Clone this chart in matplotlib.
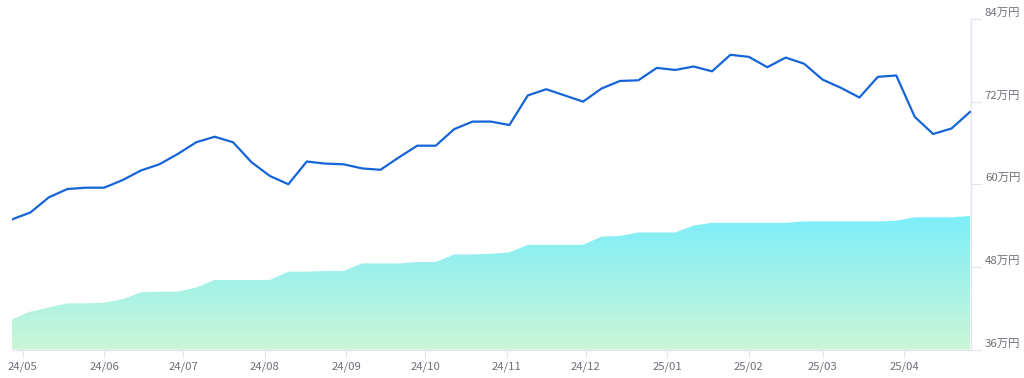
import numpy as np
import pandas as pd
import matplotlib
matplotlib.use("Agg")
import matplotlib.pyplot as plt
import matplotlib.dates as mdates
import matplotlib.transforms as mtransforms
from matplotlib.colors import LinearSegmentedColormap

plt.rcParams['font.family'] = ['Noto Sans CJK JP', 'DejaVu Sans']

# weekly points, 2024-04-27 .. 2025-04-26
start_date = "2024-04-27"
n_weeks = 53

# market value (万円)
market_value = [
    54.9, 55.9, 58.1, 59.3, 59.5, 59.5, 60.6, 62.0, 62.9, 64.4,
    66.1, 66.9, 66.1, 63.2, 61.2, 60.0, 63.3, 63.0, 62.9, 62.3,
    62.1, 63.9, 65.6, 65.6, 68.0, 69.1, 69.1, 68.6, 72.9, 73.8,
    72.9, 72.0, 73.9, 75.0, 75.1, 76.9, 76.6, 77.1, 76.4, 78.8,
    78.5, 77.0, 78.4, 77.5, 75.2, 74.0, 72.6, 75.6, 75.8, 69.8,
    67.3, 68.1, 70.5,
]

# invested amount (万円)
invested = [
    40.4, 41.5, 42.1, 42.7, 42.7, 42.8, 43.3, 44.3, 44.4, 44.4,
    45.0, 46.1, 46.1, 46.1, 46.1, 47.3, 47.3, 47.4, 47.4, 48.5,
    48.5, 48.5, 48.7, 48.7, 49.8, 49.8, 49.9, 50.1, 51.2, 51.2,
    51.2, 51.2, 52.4, 52.5, 53.0, 53.0, 53.0, 54.0, 54.4, 54.4,
    54.4, 54.4, 54.4, 54.6, 54.6, 54.6, 54.6, 54.6, 54.7, 55.2,
    55.2, 55.2, 55.4,
]

month_ticks = pd.date_range("2024-05-01", "2025-04-01", freq="MS")
y_ticks = [36, 48, 60, 72, 84]

dates = pd.date_range(start_date, periods=n_weeks, freq="7D")
xs = mdates.date2num(dates)
y_min, y_max = 36, 84

fig = plt.figure(figsize=(10.24, 3.78), dpi=100)
ax = fig.add_axes([12 / 1024, 1 - 349.5 / 378, (971 - 12) / 1024, (349.5 - 19) / 378])

axis_col = "#E0E6F1"
label_col = "#6E7079"

# gradient-filled area for invested amount
poly = ax.fill_between(xs, y_min, invested, color="none", lw=0)
cmap = LinearSegmentedColormap.from_list("grad", ["#CBF6D6", "#7DEEF9"])
grad = np.linspace(0, 1, 256).reshape(-1, 1)
img = ax.imshow(grad, cmap=cmap, origin="lower", aspect="auto",
                extent=[xs[0], xs[-1], y_min, max(invested)], zorder=1)
path = poly.get_paths()[0]
img.set_clip_path(path, ax.transData)

# market value line
ax.plot(xs, market_value, color="#1565D8", lw=1.6, zorder=3, solid_joinstyle="round")

ax.set_xlim(xs[0], xs[-1] + 0.4)
ax.set_ylim(y_min, y_max)

for s in ["top", "left"]:
    ax.spines[s].set_visible(False)
ax.spines["bottom"].set_color(axis_col)
ax.spines["right"].set_color(axis_col)
ax.spines["bottom"].set_linewidth(1)
ax.spines["right"].set_linewidth(1)

ax.set_xticks(mdates.date2num(month_ticks))
ax.set_xticklabels([d.strftime("%y/%m") for d in month_ticks])
ax.yaxis.tick_right()
ax.set_yticks(y_ticks)
ax.set_yticklabels([f"{v}万円" for v in y_ticks])

ax.tick_params(axis="x", length=6, color=axis_col, labelcolor=label_col,
               labelsize=8.2, pad=2.5)
ax.tick_params(axis="y", length=7, color=axis_col, labelcolor=label_col,
               labelsize=8.2, pad=3, left=False, right=True)

# y labels sit a little above their ticks
offset = mtransforms.ScaledTranslation(0, 5 / 72, fig.dpi_scale_trans)
for lab in ax.get_yticklabels():
    lab.set_transform(lab.get_transform() + offset)

fig.savefig("out.png", dpi=100)
